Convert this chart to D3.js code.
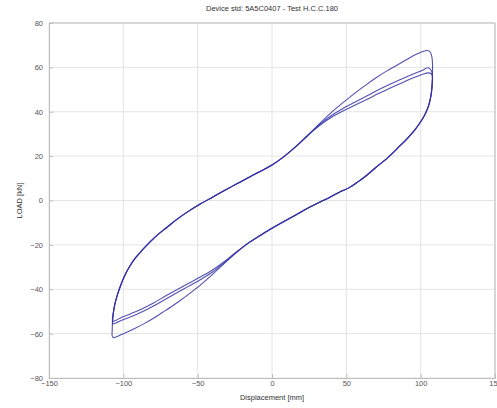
<!DOCTYPE html>
<html>
<head>
<meta charset="utf-8">
<script src="https://cdn.jsdelivr.net/npm/d3@7"></script>
<style>
  body { margin: 0; background: #fff; }
  text { font-family: 'Liberation Sans', Arial, sans-serif; }
</style>
</head>
<body>
<script>
  // tick values
  const xTicks = [-150, -100, -50, 0, 50, 100, 150];
  const yTicks = [-80, -60, -40, -20, 0, 20, 40, 60, 80];

  // loading branch shared by all cycles (left tip -> middle)
  const upDisp = [-107.5, -107.3, -106.8, -105.8, -104.2, -102.2, -99.5, -96, -92, -87.5, -82.5, -77, -71, -64, -56, -48, -40, -32, -24, -16, -8, 0, 8, 16, 24];
  const upLoad = [-59, -55, -51, -47, -43, -39, -34.5, -30, -26, -22.5, -19, -15.5, -12.3, -8.5, -4.8, -1.5, 1.5, 4.5, 7.4, 10.3, 13.1, 16, 19.8, 24.3, 29.3];

  // loading branch ends, one per cycle
  const upEndDisp1 = [32, 40, 48, 56, 63, 70, 77, 84, 90, 95, 99, 102, 104.7, 106.5, 107.6, 108];
  const upEndLoad1 = [34.6, 39.7, 44.2, 48.5, 52, 55.3, 58.3, 61, 63.3, 65.2, 66.5, 67.3, 67.6, 66.8, 64.5, 61];
  const upEndDisp2 = [32, 40, 48, 56, 64, 72, 80, 88, 95, 101, 105, 107.2];
  const upEndLoad2 = [34.2, 38.3, 41.6, 44.4, 47.2, 50, 52.6, 55, 57, 58.6, 59.8, 58.5];
  const upEndLoad3 = [33.8, 37.5, 40.4, 43, 45.6, 48.3, 50.8, 53.2, 55.3, 56.8, 57.5, 57];

  // unloading branch shared by all cycles (right tip -> middle)
  const downDisp = [107.9, 107.7, 107.2, 106.4, 105.2, 103.6, 101.6, 99.2, 96.5, 93.5, 90, 86, 81.5, 76, 70, 64, 58, 52, 45, 39, 32, 24, 16, 8, 0, -8, -16];
  const downLoad = [56, 52, 48.5, 45.5, 42.5, 39.8, 37.2, 34.7, 32.2, 29.8, 27.2, 24.6, 21.6, 18.2, 15, 11.5, 8.5, 5.8, 3.6, 1.5, -0.8, -3.5, -6.5, -9.5, -12.5, -15.8, -19.2];

  // unloading branch ends, one per cycle
  const downEndDisp1 = [-24, -32, -40, -48, -56, -62, -68, -74, -80, -86, -92, -97, -101, -104.5, -106.5, -107.5];
  const downEndLoad1 = [-23.5, -28.3, -33.3, -38, -42.2, -45.2, -48, -50.6, -53.2, -55.5, -57.6, -59.2, -60.3, -61.4, -61.8, -61];
  const downEndDisp2 = [-24, -32, -40, -48, -56, -64, -72, -80, -88, -95, -101, -105, -107.2];
  const downEndLoad2 = [-23.2, -27.5, -31.3, -34.4, -37.3, -40.2, -43.2, -46.3, -49, -51, -52.6, -54, -54.5];
  const downEndLoad3 = [-23.4, -28, -32.2, -35.6, -38.6, -41.6, -44.6, -47.7, -50.4, -52.4, -54, -55.2, -55.6];

  const width = 497;
  const height = 408;
  const margin = { top: 23, right: 2, bottom: 30, left: 49 };

  const svg = d3
    .select('body')
    .append('svg')
    .attr('width', width)
    .attr('height', height);

  const x = d3.scaleLinear().domain([-150, 150]).range([margin.left, width - margin.right]);
  const y = d3.scaleLinear().domain([-80, 80]).range([height - margin.bottom, margin.top]);

  const zip = (a, b) => a.map((v, i) => [v, b[i]]);

  // grid
  svg.append('g')
    .selectAll('line')
    .data(xTicks)
    .enter()
    .append('line')
    .attr('x1', (d) => x(d)).attr('x2', (d) => x(d))
    .attr('y1', y(80)).attr('y2', y(-80))
    .style('stroke', '#e4e4e4');
  svg.append('g')
    .selectAll('line')
    .data(yTicks)
    .enter()
    .append('line')
    .attr('y1', (d) => y(d)).attr('y2', (d) => y(d))
    .attr('x1', x(-150)).attr('x2', x(150))
    .style('stroke', '#e4e4e4');

  // axes
  const xAxis = d3.axisBottom(x).tickValues(xTicks).tickSize(-4).tickPadding(6).tickFormat(d3.format('d'));
  const yAxis = d3.axisLeft(y).tickValues(yTicks).tickSize(-4).tickPadding(6).tickFormat(d3.format('d'));
  const gx = svg.append('g').attr('transform', `translate(0, ${y(-80)})`).call(xAxis);
  const gy = svg.append('g').attr('transform', `translate(${x(-150)}, 0)`).call(yAxis);
  [gx, gy].forEach((g) => {
    g.select('.domain').style('stroke', '#bdbdbd');
    g.selectAll('.tick line').style('stroke', '#bdbdbd');
    g.selectAll('.tick text').style('fill', '#555').style('font-size', '7.5px');
  });
  gx.selectAll('.tick text').attr('dy', '0.3em');

  // box top and right
  svg.append('line')
    .attr('x1', x(-150)).attr('x2', x(150)).attr('y1', y(80)).attr('y2', y(80))
    .style('stroke', '#bdbdbd');
  svg.append('line')
    .attr('x1', x(150)).attr('x2', x(150)).attr('y1', y(80)).attr('y2', y(-80))
    .style('stroke', '#bdbdbd');

  // build the three cycles
  const upCommon = zip(upDisp, upLoad);
  const downCommon = zip(downDisp, downLoad);
  const cycles = [
    [zip(upEndDisp1, upEndLoad1), zip(downEndDisp1, downEndLoad1)],
    [zip(upEndDisp2, upEndLoad2), zip(downEndDisp2, downEndLoad2)],
    [zip(upEndDisp2, upEndLoad3), zip(downEndDisp2, downEndLoad3)],
  ];
  const cyclePoints = cycles.map(([upEnd, downEnd], i) => {
    const start = i === 0 ? upCommon : upCommon.filter((p) => p[1] > downEnd[downEnd.length - 1][1]);
    return [...start, ...upEnd, ...downCommon, ...downEnd, start[0]];
  });

  const line = d3.line()
    .x((d) => x(d[0]))
    .y((d) => y(d[1]))
    .curve(d3.curveCatmullRom.alpha(0.5));

  svg.append('g')
    .selectAll('path')
    .data(cyclePoints)
    .enter()
    .append('path')
    .attr('d', line)
    .style('fill', 'none')
    .style('stroke', '#3430a8')
    .style('stroke-width', 1.1)
    .style('stroke-opacity', 0.85);

  // texts
  svg.append('text')
    .text('Device std: 5A5C0407 - Test H.C.C.180')
    .attr('x', x(0))
    .attr('y', 11)
    .attr('text-anchor', 'middle')
    .style('font-size', '7.5px')
    .style('fill', '#333');
  svg.append('text')
    .text('Displacement [mm]')
    .attr('x', x(0))
    .attr('y', 400)
    .attr('text-anchor', 'middle')
    .style('font-size', '7.5px')
    .style('fill', '#333');
  svg.append('text')
    .text('LOAD [kN]')
    .attr('transform', `translate(22, ${y(0)}) rotate(-90)`)
    .attr('text-anchor', 'middle')
    .style('font-size', '7.5px')
    .style('fill', '#333');
</script>
</body>
</html>
